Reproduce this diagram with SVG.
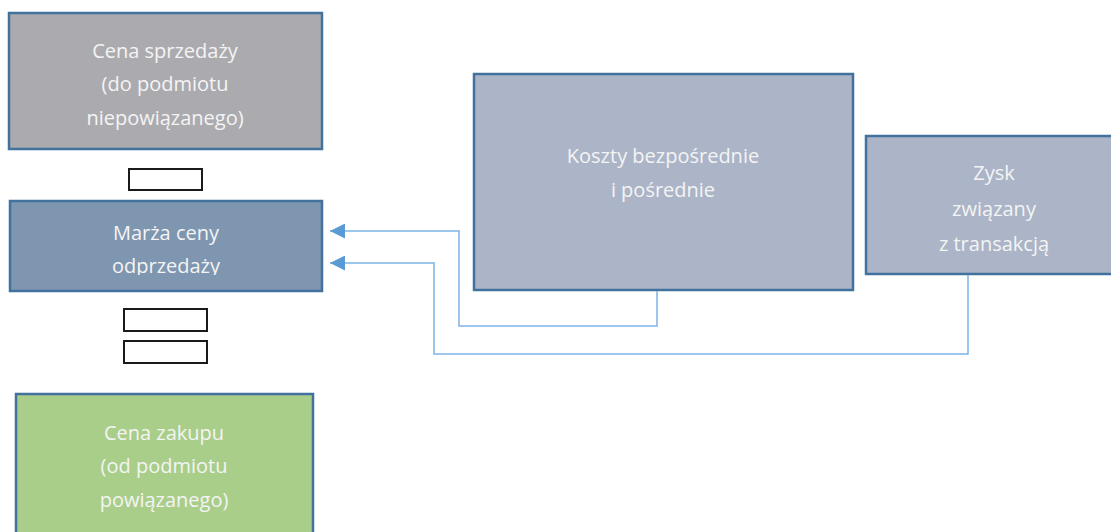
<svg xmlns="http://www.w3.org/2000/svg" width="1111" height="532" viewBox="0 0 1111 532">
<style>
.box{stroke:#41719C;stroke-width:2.5}
.t{font-family:"Open Sans","Noto Sans","Liberation Sans",sans-serif;font-size:20px;fill:#F4F4F4;text-anchor:middle}
.sm{fill:#FFFFFF;stroke:#1A1A1A;stroke-width:2}
.con{fill:none;stroke:#7FB2E5;stroke-width:1.5}
</style>
<defs>
<marker id="arr" viewBox="0 0 10 10" refX="10" refY="5" markerWidth="15" markerHeight="15" markerUnits="userSpaceOnUse" orient="auto">
<path d="M0,0 L10,5 L0,10 z" fill="#5B9BD5"/>
</marker>
<clipPath id="clipM"><rect x="0" y="200" width="330" height="75"/></clipPath>
</defs>
<rect width="1111" height="532" fill="#FFFFFF"/>
<g id="cena-sprzedazy">
<rect class="box" x="9" y="13" width="313" height="136" fill="#ABABAF"/>
<text class="t" x="165" y="58">Cena sprzedaży</text>
<text class="t" x="165" y="91">(do podmiotu</text>
<text class="t" x="165" y="125">niepowiązanego)</text>
</g>
<g id="op-minus">
<rect class="sm" x="129" y="169" width="73" height="21"/>
</g>
<g id="marza">
<rect class="box" x="10" y="201" width="312" height="90" fill="#7F96B0"/>
<g clip-path="url(#clipM)">
<text class="t" x="166" y="240">Marża ceny</text>
<text class="t" x="166" y="273">odprzedaży</text>
</g>
</g>
<g id="op-equals">
<rect class="sm" x="124" y="309" width="83" height="22"/>
<rect class="sm" x="124" y="341" width="83" height="22"/>
</g>
<g id="cena-zakupu">
<rect class="box" x="16" y="394" width="297" height="150" fill="#A9CE8A"/>
<text class="t" x="164" y="440">Cena zakupu</text>
<text class="t" x="164" y="473">(od podmiotu</text>
<text class="t" x="164" y="507">powiązanego)</text>
</g>
<g id="koszty">
<rect class="box" x="474" y="74" width="379" height="216" fill="#ABB5C7"/>
<text class="t" x="663" y="163">Koszty bezpośrednie</text>
<text class="t" x="663" y="197">i pośrednie</text>
</g>
<g id="zysk">
<rect class="box" x="866" y="136" width="256" height="138" fill="#ABB5C7"/>
<text class="t" x="994" y="180">Zysk</text>
<text class="t" x="994" y="216">związany</text>
<text class="t" x="994" y="251">z transakcją</text>
</g>
<g id="connectors">
<path class="con" d="M657,291 V326 H459 V231 H330" marker-end="url(#arr)"/>
<path class="con" d="M968,275 V354 H434 V263 H330" marker-end="url(#arr)"/>
</g>
</svg>
